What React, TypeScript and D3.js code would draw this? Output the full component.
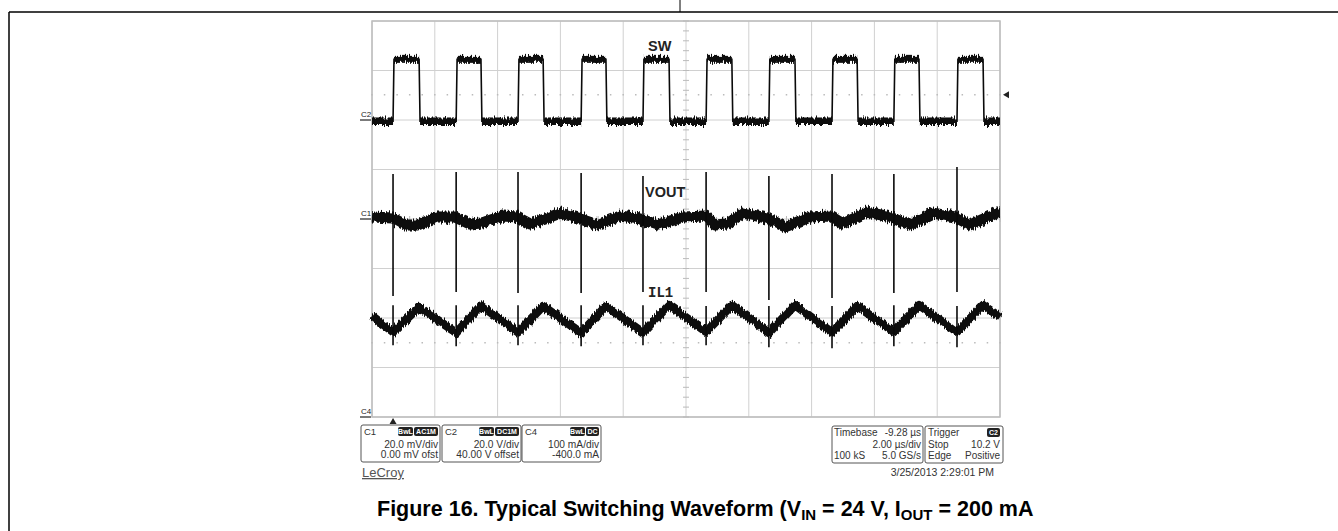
import React from 'react';
import * as d3 from 'd3';

const W = 1338;
const H = 531;

// scope screen: 10 div x 2 us, 8 div vertical
const timeGrid = [0, 2, 4, 6, 8, 10, 12, 14, 16, 18, 20];
const divGrid = [-4, -3, -2, -1, 0, 1, 2, 3, 4];

// SW (C2) switching edges, us
const swRise = [0.67, 2.68, 4.65, 6.66, 8.63, 10.64, 12.64, 14.65, 16.62, 18.63];
const swFall = [1.5, 3.47, 5.45, 7.45, 9.46, 11.46, 13.47, 15.45, 17.42, 19.46];
const swHigh = 24.5; // V
const swLow = -0.5; // V
const trigLevel = 10.2; // V

// VOUT (C1) ripple, us / mV
const voutT = [0, 0.67, 1.05, 1.46, 2.07, 2.64, 3.12, 3.5, 4.17, 4.62, 5.03, 5.51, 5.99, 6.46, 7.17, 7.9, 8.54, 9.11, 9.9,
  10.64, 10.92, 11.31, 11.82, 12.58, 13.15, 13.95, 14.59, 15.0, 15.76, 16.4, 17.13, 17.87, 18.57, 19.04, 19.9, 20];
const voutMv = [0.8, 0.4, -2.4, -2.4, 0.8, 0.8, -2.0, -1.6, 1.2, 0.8, -2.0, 0, 2.4, 0.8, -2.4, 1.2, 0, -2.4, 0.8,
  1.2, -2.4, -2.0, 2.4, 0.4, -3.2, 0.8, 1.2, -2.0, 2.8, 1.2, -2.4, 2.4, 0.8, -2.4, 2.4, 2.4];
const voutSpikeUp = [18.2, 19.0, 19.0, 18.6, 17.4, 19.0, 17.4, 18.2, 18.2, 21.0];
const voutSpikeDown = [-31.1, -29.5, -29.9, -29.9, -29.5, -29.5, -32.7, -31.9, -29.9, -29.5];

// IL1 (C4), us / mA
const ilT = [0, 0.67, 1.5, 2.68, 3.47, 4.65, 5.45, 6.66, 7.45, 8.63, 9.46, 10.64, 11.46, 12.64, 13.47, 14.65, 15.45,
  16.62, 17.42, 18.63, 19.46, 20];
const ilMa = [204, 172, 222, 170, 225, 171, 224, 170, 224, 171, 226, 172, 226, 170, 226, 171, 224, 172, 226, 172, 226, 202];
const ilSpikeHi = [226, 226, 226, 226, 226, 224, 224, 224, 226, 224];
const ilSpikeLo = [145, 143, 145, 143, 145, 145, 141, 139, 143, 141];
const ilMarker = 150; // mA, dotted level

const x = d3.scaleLinear().domain([0, 20]).range([372, 1000]);
const y = d3.scaleLinear().domain([-4, 4]).range([417, 21]);
const c2 = (v: number) => y(v / 20 + 2); // 20 V/div, 40 V offset
const c1 = (mv: number) => y(mv / 20); // 20 mV/div
const c4 = (ma: number) => y((ma - 400) / 100); // 100 mA/div, -400 mA offset

const line = d3.line<[number, number]>().x((d) => d[0]).y((d) => d[1]);

const INK = '#0a0a0a';
const GRID = '#d0d0d0';
const TXT = '#333';
const FONT = 'Liberation Sans, Arial, sans-serif';

function Badge({ x0, y0, w, label }: { x0: number; y0: number; w: number; label: string }) {
  return (
    <g>
      <rect x={x0} y={y0} width={w} height={9} rx={2} fill="#222" />
      <text x={x0 + w / 2} y={y0 + 7} fontSize={7} fontWeight="bold" fill="#fff" textAnchor="middle" fontFamily={FONT}>
        {label}
      </text>
    </g>
  );
}

function ChanBox({ x0, name, badges, rows }: { x0: number; name: string; badges: [string, number][]; rows: string[] }) {
  const w = 79;
  let bx = x0 + w - 2;
  const bs = badges
    .slice()
    .reverse()
    .map(([l, bw]) => {
      bx -= bw + 1;
      return <Badge key={l} x0={bx + 1} y0={427} w={bw} label={l} />;
    });
  return (
    <g fontFamily={FONT} fill={TXT}>
      <rect x={x0} y={425} width={w} height={37} rx={2} fill="#fff" stroke="#555" strokeWidth={1} />
      <text x={x0 + 3} y={435} fontSize={9.5}>{name}</text>
      {bs}
      <text x={x0 + w - 2} y={448} fontSize={10.2} textAnchor="end">{rows[0]}</text>
      <text x={x0 + w - 2} y={458} fontSize={10.2} textAnchor="end">{rows[1]}</text>
    </g>
  );
}

export default function App() {
  // SW trace points
  const swPts: [number, number][] = [[x(0), c2(swLow)]];
  swRise.forEach((r, i) => {
    swPts.push([x(r), c2(swLow)], [x(r + 0.03), c2(swHigh)], [x(swFall[i]), c2(swHigh)], [x(swFall[i] + 0.03), c2(swLow)]);
  });
  swPts.push([x(20), c2(swLow)]);

  const voutPts: [number, number][] = voutT.map((t, i) => [x(t), c1(voutMv[i])]);
  const ilPts: [number, number][] = ilT.map((t, i) => [x(t), c4(ilMa[i])]);
  const swLowEnds = swRise.map((r, i) => [i === 0 ? 0 : swFall[i - 1] + 0.03, r]).concat([[swFall[swFall.length - 1] + 0.03, 20]]);

  const minorX = d3.range(0, 20.001, 0.4);
  const minorY = d3.range(-4, 4.001, 0.2);

  return (
    <svg width={W} height={H} style={{ position: 'absolute', left: 0, top: 0, background: '#fff' }}>
      <defs>
        <filter id="fuzz" filterUnits="userSpaceOnUse" x={0} y={0} width={W} height={H}>
          <feTurbulence type="fractalNoise" baseFrequency="0.9 0.06" numOctaves={2} seed={3} result="n" />
          <feColorMatrix in="n" type="matrix" values="0 0 0 0 0.5  0 1 0 0 0  0 0 1 0 0  0 0 0 0 1" result="m" />
          <feDisplacementMap in="SourceGraphic" in2="m" scale={8} xChannelSelector="R" yChannelSelector="G" />
        </filter>
      </defs>

      {/* page frame */}
      <line x1={9} x2={W} y1={12} y2={12} stroke="#000" strokeWidth={1.5} />
      <line x1={9} x2={9} y1={12} y2={H} stroke="#000" strokeWidth={1.5} />
      <line x1={680} x2={680} y1={0} y2={12} stroke="#000" strokeWidth={1} />

      {/* grid */}
      {timeGrid.map((t) => (
        <line key={'gx' + t} x1={x(t)} x2={x(t)} y1={y(-4)} y2={y(4)} stroke={GRID} strokeWidth={1} />
      ))}
      {divGrid.map((d) => (
        <line key={'gy' + d} x1={x(0)} x2={x(20)} y1={y(d)} y2={y(d)} stroke={GRID} strokeWidth={1} />
      ))}
      <rect x={x(0)} y={y(4)} width={x(20) - x(0)} height={y(-4) - y(4)} fill="none" stroke="#bdbdbd" strokeWidth={1.5} />
      {minorX.map((t) => (
        <line key={'mx' + t} x1={x(t)} x2={x(t)} y1={y(0) - 3} y2={y(0) + 3} stroke="#bbb" strokeWidth={1} />
      ))}
      {minorY.map((d) => (
        <line key={'my' + d} x1={x(10) - 3} x2={x(10) + 3} y1={y(d)} y2={y(d)} stroke="#bbb" strokeWidth={1} />
      ))}
      {minorX.map((t) => (
        <rect key={'dt' + t} x={x(t) - 0.75} y={c2(trigLevel) - 0.75} width={1.5} height={1.5} fill="#bbb" />
      ))}
      {minorX.map((t) => (
        <rect key={'di' + t} x={x(t) - 0.75} y={c4(ilMarker) - 0.75} width={1.5} height={1.5} fill="#bbb" />
      ))}

      {/* SW */}
      <path d={line(swPts) || ''} fill="none" stroke={INK} strokeWidth={1.6} />
      <g filter="url(#fuzz)">
        {swRise.map((r, i) => (
          <line key={'sh' + i} x1={x(r + 0.03)} x2={x(swFall[i])} y1={c2(swHigh)} y2={c2(swHigh)} stroke={INK} strokeWidth={7} />
        ))}
        {swLowEnds.map(([a, b], i) => (
          <line key={'sl' + i} x1={x(a)} x2={x(b)} y1={c2(swLow)} y2={c2(swLow)} stroke={INK} strokeWidth={7.5} />
        ))}
      </g>

      {/* VOUT */}
      <path d={line(voutPts) || ''} fill="none" stroke={INK} strokeWidth={11} strokeLinejoin="round" filter="url(#fuzz)" />
      {swRise.map((r, i) => (
        <line key={'vs' + i} x1={x(r)} x2={x(r)} y1={c1(voutSpikeUp[i])} y2={c1(voutSpikeDown[i])} stroke={INK} strokeWidth={1.6} />
      ))}

      {/* IL1 */}
      <path d={line(ilPts) || ''} fill="none" stroke={INK} strokeWidth={8.5} strokeLinejoin="round" filter="url(#fuzz)" />
      {swRise.map((r, i) => (
        <line key={'is' + i} x1={x(r)} x2={x(r)} y1={c4(ilSpikeHi[i])} y2={c4(ilSpikeLo[i])} stroke={INK} strokeWidth={1.6} />
      ))}

      {/* trace labels */}
      <text x={648} y={51} fontSize={14.5} fontWeight="bold" fontFamily={FONT} fill="#222">SW</text>
      <text x={645} y={197} fontSize={14.5} fontWeight="bold" fontFamily={FONT} fill="#222">VOUT</text>
      <text x={648} y={297} fontSize={14} fontWeight="bold" fontFamily="Liberation Mono, monospace" fill="#222">IL1</text>

      {/* channel markers */}
      {([['C2', c2(0)], ['C1', c1(0)], ['C4', c4(0)]] as [string, number][]).map(([n, py]) => (
        <g key={n}>
          <text x={361} y={py - 3} fontSize={8} fontFamily={FONT} fill="#222">{n}</text>
          <line x1={360} x2={371} y1={py} y2={py} stroke="#222" strokeWidth={1.2} />
        </g>
      ))}
      <path d={`M${x(20) + 3},${c2(trigLevel)} l6,-3.5 v7 z`} fill="#222" />
      <path d={`M${x(swRise[0])},${418} l-3.5,6 h7 z`} fill="#222" />

      {/* info boxes */}
      <ChanBox x0={361} name="C1" badges={[['BwL', 15], ['AC1M', 24]]} rows={['20.0 mV/div', '0.00 mV ofst']} />
      <ChanBox x0={442} name="C2" badges={[['BwL', 15], ['DC1M', 24]]} rows={['20.0 V/div', '40.00 V offset']} />
      <ChanBox x0={522} name="C4" badges={[['BwL', 15], ['DC', 13]]} rows={['100 mA/div', '-400.0 mA']} />

      <g fontFamily={FONT} fill={TXT} fontSize={10}>
        <rect x={832} y={426} width={91} height={37} rx={2} fill="#fff" stroke="#555" />
        <text x={834} y={436}>Timebase</text>
        <text x={921} y={436} textAnchor="end">-9.28 µs</text>
        <text x={921} y={448} textAnchor="end">2.00 µs/div</text>
        <text x={834} y={459}>100 kS</text>
        <text x={921} y={459} textAnchor="end">5.0 GS/s</text>

        <rect x={925} y={426} width={78} height={37} rx={2} fill="#fff" stroke="#555" />
        <text x={928} y={436}>Trigger</text>
        <Badge x0={987} y0={428} w={13} label="C2" />
        <text x={928} y={448}>Stop</text>
        <text x={1000} y={448} textAnchor="end">10.2 V</text>
        <text x={928} y={459}>Edge</text>
        <text x={1000} y={459} textAnchor="end">Positive</text>

        <text x={994} y={476} fontSize={10.5} textAnchor="end">3/25/2013 2:29:01 PM</text>
      </g>
      <text x={362} y={477} fontSize={13} fontFamily={FONT} fill="#555" textDecoration="underline">LeCroy</text>

      {/* caption */}
      <text x={377} y={516} fontSize={21.5} fontWeight="bold" fontFamily={FONT} fill="#000">
        Figure 16. Typical Switching Waveform (V
        <tspan fontSize={15} dy={4}>IN</tspan>
        <tspan dy={-4}> = 24 V, I</tspan>
        <tspan fontSize={15} dy={4}>OUT</tspan>
        <tspan dy={-4}> = 200 mA</tspan>
      </text>
    </svg>
  );
}
